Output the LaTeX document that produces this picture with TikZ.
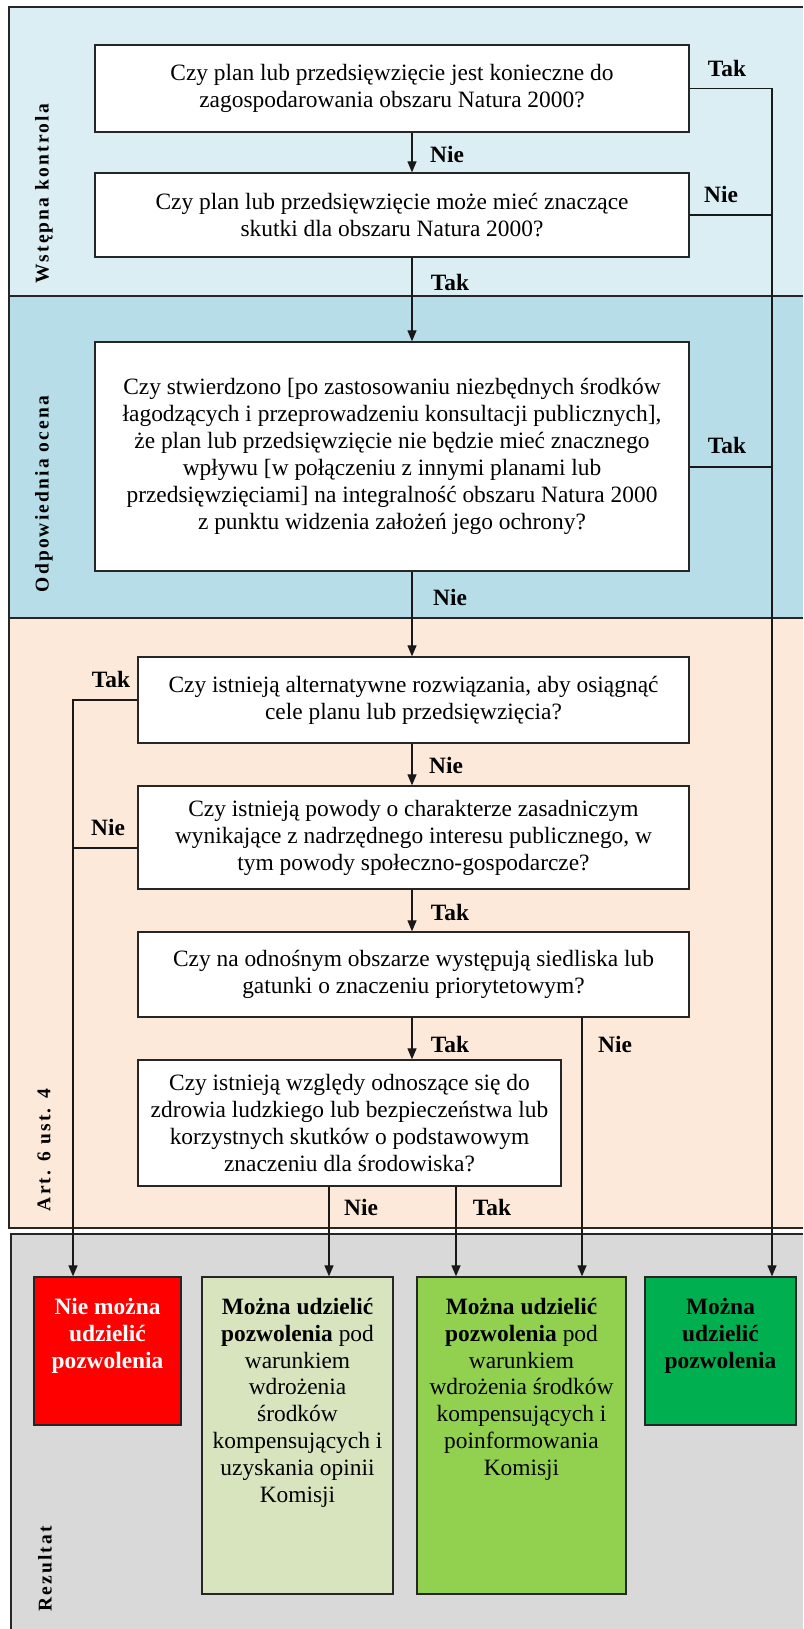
\documentclass[tikz,border=0pt]{standalone}
\usepackage{fontspec}
\setmainfont{Liberation Serif}
\newfontfamily\seclabelfont[LetterSpace=11]{Liberation Serif}
\usetikzlibrary{arrows.meta}
\definecolor{secA}{HTML}{DBEEF4}
\definecolor{secB}{HTML}{B7DEE8}
\definecolor{secC}{HTML}{FDE9D9}
\definecolor{secD}{HTML}{D9D9D9}
\definecolor{resRed}{HTML}{FF0000}
\definecolor{resLight}{HTML}{D7E4BD}
\definecolor{resMid}{HTML}{92D050}
\definecolor{resDark}{HTML}{00B050}
\begin{document}
\begin{tikzpicture}[x=1pt,y=-1pt,
  qbox/.style={draw=black!85, line width=1.3pt, fill=white, align=center, inner sep=0pt, font=\fontsize{23.4}{27}\selectfont},
  rbox/.style={draw=black!85, line width=1.3pt, inner sep=0pt},
  rtext/.style={anchor=north, align=center, inner sep=0pt, font=\fontsize{23.4}{26.8}\selectfont},
  lbl/.style={anchor=base, inner sep=0pt, font=\fontsize{23.4}{27}\selectfont\bfseries},
  sec/.style={rotate=90, inner sep=0pt, font=\seclabelfont\fontsize{19.5}{24}\selectfont\bfseries},
  conn/.style={line width=1.2pt, draw=black!90},
  arr/.style={conn, -{Triangle[length=11pt,width=9pt]}},
  frame/.style={line width=1.5pt, draw=black!85}
]
\useasboundingbox (0,0) rectangle (803,1629);
% sections
\fill[secA] (9,7) rectangle (803,296);
\fill[secB] (9,296) rectangle (803,618);
\fill[secC] (9,618) rectangle (803,1228);
\fill[secD] (11,1234) rectangle (803,1629);
\draw[frame] (803,7) -- (9,7) -- (9,1228) -- (803,1228);
\draw[frame] (9,296) -- (803,296);
\draw[frame] (9,618) -- (803,618);
\draw[frame] (803,1234) -- (11,1234) -- (11,1629);
% section labels
\node[sec] (s1) at (44,194) {Wstępna kontrola};
\node[sec] (s2) at (44,494) {Odpowiednia ocena};
\node[sec] (s3) at (44,1150) {Art. 6 ust. 4};
\node[sec] (s4) at (45,1569) {Rezultat};
% question boxes
\node[qbox, minimum width=594pt, minimum height=87pt] (b1) at (392,88.5) {Czy plan lub przedsięwzięcie jest konieczne do\\zagospodarowania obszaru Natura 2000?};
\node[qbox, minimum width=594pt, minimum height=84pt] (b2) at (392,215) {Czy plan lub przedsięwzięcie może mieć znaczące\\skutki dla obszaru Natura 2000?};
\node[qbox, minimum width=594pt, minimum height=229pt] (b3) at (392,456.5) {Czy stwierdzono [po zastosowaniu niezbędnych środków\\łagodzących i przeprowadzeniu konsultacji publicznych],\\że plan lub przedsięwzięcie nie będzie mieć znacznego\\wpływu [w połączeniu z innymi planami lub\\przedsięwzięciami] na integralność obszaru Natura 2000\\z punktu widzenia założeń jego ochrony?};
\node[qbox, minimum width=551pt, minimum height=86pt] (b4) at (413.5,700) {Czy istnieją alternatywne rozwiązania, aby osiągnąć\\cele planu lub przedsięwzięcia?};
\node[qbox, minimum width=551pt, minimum height=103pt] (b5) at (413.5,837.5) {Czy istnieją powody o charakterze zasadniczym\\wynikające z nadrzędnego interesu publicznego, w\\tym powody społeczno-gospodarcze?};
\node[qbox, minimum width=551pt, minimum height=85pt] (b6) at (413.5,974.5) {Czy na odnośnym obszarze występują siedliska lub\\gatunki o znaczeniu priorytetowym?};
\node[qbox, minimum width=423pt, minimum height=126pt] (b7) at (349.5,1123) {Czy istnieją względy odnoszące się do\\zdrowia ludzkiego lub bezpieczeństwa lub\\korzystnych skutków o podstawowym\\znaczeniu dla środowiska?};
% result boxes
\node[rbox, fill=resRed, minimum width=147pt, minimum height=148pt] (r1) at (107.5,1351) {};
\node[rbox, fill=resLight, minimum width=191pt, minimum height=317pt] (r2) at (297.5,1435.5) {};
\node[rbox, fill=resMid, minimum width=209pt, minimum height=317pt] (r3) at (521.5,1435.5) {};
\node[rbox, fill=resDark, minimum width=151pt, minimum height=148pt] (r4) at (720.5,1351) {};
\node[rtext, text=white, font=\fontsize{23.4}{26.8}\selectfont\bfseries] (r1t) at ([yshift=-19.2pt]r1.north) {\strut Nie można\\udzielić\\pozwolenia};
\node[rtext] (r2t) at ([yshift=-19.2pt]r2.north) {\strut\textbf{Można udzielić}\\\textbf{pozwolenia} pod\\warunkiem\\wdrożenia\\środków\\kompensujących i\\uzyskania opinii\\Komisji};
\node[rtext] (r3t) at ([yshift=-19.2pt]r3.north) {\strut\textbf{Można udzielić}\\\textbf{pozwolenia} pod\\warunkiem\\wdrożenia środków\\kompensujących i\\poinformowania\\Komisji};
\node[rtext, font=\fontsize{23.4}{26.8}\selectfont\bfseries] (r4t) at ([yshift=-19.2pt]r4.north) {\strut Można\\udzielić\\pozwolenia};
% helper coordinates
\coordinate (mc) at (412,0);
\coordinate (rv) at (772,0);
\coordinate (lv) at (73,0);
\coordinate (c2) at (329,0);
\coordinate (c3a) at (456,0);
\coordinate (c3b) at (582,0);
\coordinate (b3r) at ([yshift=-10.5pt]b3.east);
\coordinate (b5l) at ([yshift=-10.5pt]b5.west);
% main column
\draw[arr] (b1.south -| mc) -- (b2.north -| mc);
\draw[arr] (b2.south -| mc) -- (b3.north -| mc);
\draw[arr] (b3.south -| mc) -- (b4.north -| mc);
\draw[arr] (b4.south -| mc) -- (b5.north -| mc);
\draw[arr] (b5.south -| mc) -- (b6.north -| mc);
\draw[arr] (b6.south -| mc) -- (b7.north -| mc);
% right column
\draw[arr] (b1.east) -- (b1.east -| rv) -- (r4.north -| rv);
\draw[conn] (b2.east) -- (b2.east -| rv);
\draw[conn] (b3r) -- (b3r -| rv);
% left column
\draw[arr] (b4.west) -- (b4.west -| lv) -- (r1.north -| lv);
\draw[conn] (b5l) -- (b5l -| lv);
% bottom
\draw[arr] (b7.south -| c2) -- (r2.north -| c2);
\draw[arr] (b7.south -| c3a) -- (r3.north -| c3a);
\draw[arr] (b6.south -| c3b) -- (r3.north -| c3b);
% labels
\node[lbl] (l1) at (727,77) {Tak};
\node[lbl] (l2) at (447,163) {Nie};
\node[lbl] (l3) at (721,203) {Nie};
\node[lbl] (l4) at (450,290) {Tak};
\node[lbl] (l5) at (727,453) {Tak};
\node[lbl] (l6) at (450,605) {Nie};
\node[lbl] (l7) at (111,687) {Tak};
\node[lbl] (l8) at (446,773) {Nie};
\node[lbl] (l9) at (108,835) {Nie};
\node[lbl] (l10) at (450,920) {Tak};
\node[lbl] (l11) at (450,1052) {Tak};
\node[lbl] (l12) at (615,1052) {Nie};
\node[lbl] (l13) at (361,1215) {Nie};
\node[lbl] (l14) at (492,1215) {Tak};
\end{tikzpicture}
\end{document}
